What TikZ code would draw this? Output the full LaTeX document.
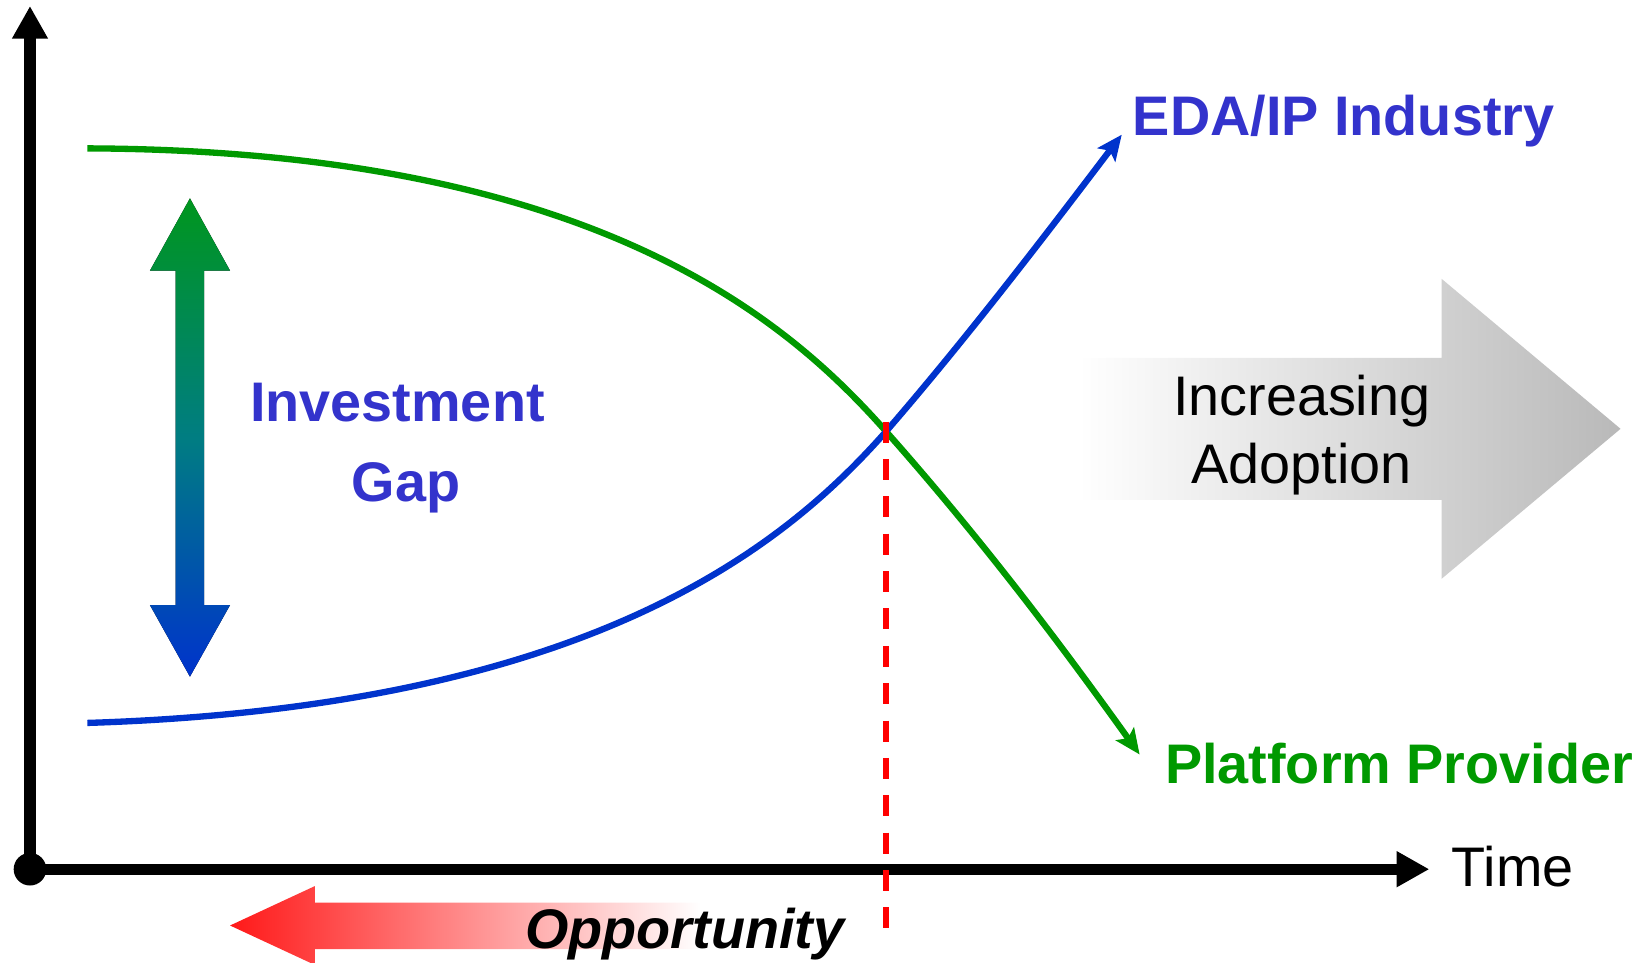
\documentclass[tikz,border=0pt]{standalone}
\usepackage{fontspec}
\setmainfont{Liberation Sans}
\usetikzlibrary{arrows.meta}
\definecolor{labelblue}{RGB}{51,51,204}
\definecolor{curveblue}{RGB}{0,51,204}
\definecolor{curvegreen}{RGB}{0,153,0}
\definecolor{labelgreen}{RGB}{0,153,0}
\definecolor{gaptop}{RGB}{0,150,30}
\definecolor{gapmid}{RGB}{0,125,130}
\definecolor{gapbot}{RGB}{0,51,204}
\definecolor{oppred}{RGB}{255,25,25}
\definecolor{adoptgray}{RGB}{185,185,185}
\pgfdeclarehorizontalshading{oppfade}{100bp}{color(0bp)=(oppred); color(25bp)=(oppred); color(71bp)=(white); color(100bp)=(white)}
\pgfdeclarehorizontalshading{adoptfade}{100bp}{color(0bp)=(white); color(25bp)=(white); color(75bp)=(adoptgray); color(100bp)=(adoptgray)}
\begin{document}
\begin{tikzpicture}[x=1pt,y=-1pt,
  axis/.style={line width=10.5pt, -{Triangle[length=31pt,width=32pt]}},
  curve/.style={line width=6pt, -{Stealth[length=24pt,width=21pt,inset=5pt]}},
  lbl/.style={inner sep=0pt, font=\fontsize{53}{60}\selectfont},
  boldlbl/.style={lbl, font=\fontsize{53}{60}\selectfont\bfseries},
]
\useasboundingbox (0,0) rectangle (1568,915);

% background arrows
\shade[shading=adoptfade]
  (1025,340) -- (1370,340) -- (1370,265) -- (1540,407.5) -- (1370,550) -- (1370,475) -- (1025,475) -- cycle;
\node[lbl, anchor=base] (inc) at (1237,394.4) {Increasing};
\node[lbl, anchor=base] (adp) at (1237,459) {Adoption};

\shade[shading=oppfade]
  (218.6,879.5) -- (299.3,842) -- (299.3,857.8) -- (705,857.8) -- (705,902) -- (299.3,902) -- (299.3,917) -- cycle;
\node[lbl, anchor=base west, font=\fontsize{53}{60}\selectfont\bfseries\itshape] (opp) at (499,901.5) {Opportunity};

% investment gap arrow
\fill[top color=gaptop, bottom color=gapbot, middle color=gapmid]
  (166.9,257.2) -- (142.5,257.2) -- (180.5,188.5) -- (218.6,257.2) -- (193.9,257.2) --
  (193.9,575) -- (218.6,575) -- (180.5,643) -- (142.5,575) -- (166.9,575) -- cycle;
\node[boldlbl, anchor=base, text=labelblue] (inv) at (377.7,400.7) {Investment};
\node[boldlbl, anchor=base, text=labelblue] (gap) at (385.7,476.8) {Gap};

% axes
\coordinate (O) at (28.5,826);
\coordinate (ytip) at (28.5,5.7);
\coordinate (xtip) at (1358.3,826);
\draw[axis] (O) -- (ytip);
\draw[axis] (O) -- (xtip);
\fill (O) circle (15.5);
\node[lbl, anchor=base west] (time) at (1379.5,842.6) {Time};

% curves
\coordinate (gs) at (83,141);
\coordinate (bs) at (83,687);
\coordinate (X) at (842,410);
\coordinate (ge) at (1083,717);
\coordinate (be) at (1066,128);
\draw[curve, curvegreen] (gs) .. controls (560,143) and (745,300) .. (X)
  .. controls (935,515) and (1010,615) .. (ge);
\draw[curve, curveblue] (bs) .. controls (560,672) and (745,520) .. (X)
  .. controls (920,320) and (1000,215) .. (be);

% crossing marker
\draw[red, line width=5pt, dash pattern=on 20pt off 15.5pt] (842,400.7) -- (842,882);

\node[boldlbl, anchor=base west, text=labelblue] (eda) at (1076.4,128.3) {EDA/IP Industry};
\node[boldlbl, anchor=base west, text=labelgreen] (pp) at (1107,744.4) {Platform Provider};
\end{tikzpicture}
\end{document}
